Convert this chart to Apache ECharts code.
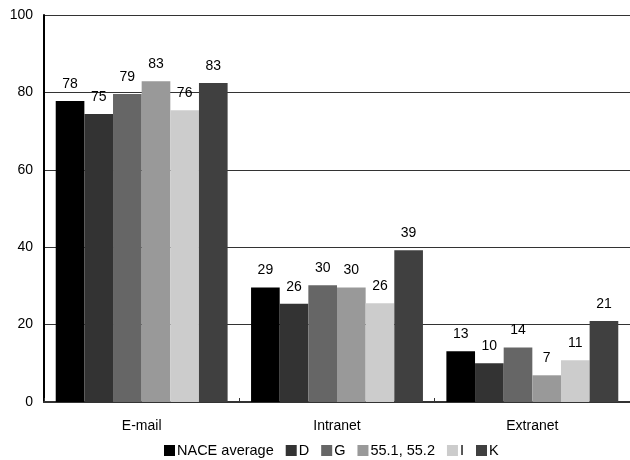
<!DOCTYPE html>
<html><head><meta charset="utf-8">
<script src="https://cdn.jsdelivr.net/npm/echarts@6/dist/echarts.min.js"></script>
<style>html,body{margin:0;padding:0;background:#fff}#c{width:630px;height:460px}</style>
</head><body><div id="c"></div>
<script>
var categories = ['E-mail', 'Intranet', 'Extranet'];
var seriesNames = ['NACE average', 'D', 'G', '55.1, 55.2', 'I', 'K'];
var colors = ['#000000', '#333333', '#666666', '#999999', '#cccccc', '#404040'];
var nace = [77.8, 29.6, 13.1];
var seriesD = [74.4, 25.4, 10.0];
var seriesG = [79.6, 30.2, 14.1];
var series551 = [82.9, 29.6, 6.9];
var seriesI = [75.4, 25.5, 10.8];
var seriesK = [82.4, 39.2, 20.9];
var labelsNace = ['78', '29', '13'];
var labelsD = ['75', '26', '10'];
var labelsG = ['79', '30', '14'];
var labels551 = ['83', '30', '7'];
var labelsI = ['76', '26', '11'];
var labelsK = ['83', '39', '21'];
var yTicks = [0, 20, 40, 60, 80, 100];

var values = [nace, seriesD, seriesG, series551, seriesI, seriesK];
var labels = [labelsNace, labelsD, labelsG, labels551, labelsI, labelsK];
var font = 'Liberation Sans, Arial, sans-serif';
var fs = 14;
var chart = echarts.init(document.getElementById('c'), null, {renderer: 'canvas'});
chart.setOption({
  animation: false,
  backgroundColor: '#ffffff',
  grid: {left: 44, right: 0, top: 15, bottom: 58, containLabel: false},
  legend: {
    bottom: 2, left: 164, itemWidth: 11, itemHeight: 11, itemGap: 12,
    icon: 'rect', padding: 0,
    textStyle: {fontFamily: font, fontSize: 14.5, color: '#000', padding: [0, 0, 0, -3]},
    data: seriesNames
  },
  xAxis: {
    type: 'category', data: categories,
    axisLine: {lineStyle: {color: '#333', width: 2}},
    axisTick: {show: true, inside: true, length: 4, lineStyle: {color: '#333'}},
    axisLabel: {fontFamily: font, fontSize: fs, color: '#000', margin: 17}
  },
  yAxis: {
    type: 'value', min: yTicks[0], max: yTicks[yTicks.length - 1], interval: 20,
    axisLine: {show: true, lineStyle: {color: '#000', width: 2}},
    axisTick: {show: false},
    axisLabel: {fontFamily: font, fontSize: fs, color: '#000', margin: 11},
    splitLine: {show: true, lineStyle: {color: '#333', width: 1}}
  },
  series: seriesNames.map(function (n, i) {
    return {
      name: n, type: 'bar', data: values[i],
      barGap: '0%', barCategoryGap: '12%',
      itemStyle: {color: colors[i]},
      label: {
        show: true, position: 'top', distance: 10,
        fontFamily: font, fontSize: fs, color: '#000',
        formatter: function (p) { return labels[i][p.dataIndex]; }
      }
    };
  })
});
</script></body></html>
